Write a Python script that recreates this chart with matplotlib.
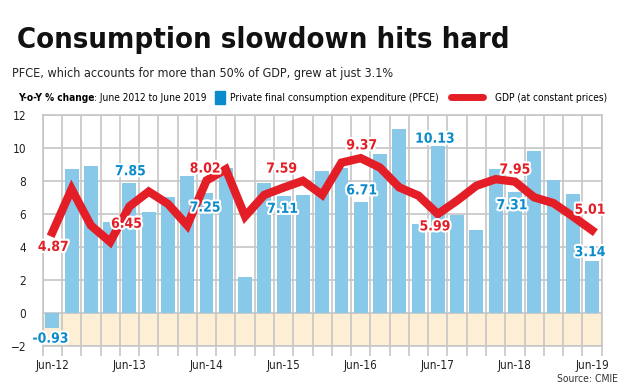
import matplotlib
matplotlib.use("Agg")
import matplotlib.pyplot as plt
import matplotlib.patheffects as pe
from matplotlib.patches import Rectangle
from matplotlib.lines import Line2D

# -------------------------------
quarters = ["Jun-12", "Sep-12", "Dec-12", "Mar-13", "Jun-13", "Sep-13", "Dec-13", "Mar-14",
            "Jun-14", "Sep-14", "Dec-14", "Mar-15", "Jun-15", "Sep-15", "Dec-15", "Mar-16",
            "Jun-16", "Sep-16", "Dec-16", "Mar-17", "Jun-17", "Sep-17", "Dec-17", "Mar-18",
            "Jun-18", "Sep-18", "Dec-18", "Mar-19", "Jun-19"]
pfce = [-0.93, 8.7, 8.9, 5.5, 7.85, 6.1, 7.0, 8.3, 7.25, 8.75, 2.17, 7.87, 7.11, 7.13, 8.58,
        8.8, 6.71, 9.6, 11.16, 5.4, 10.13, 5.94, 5.03, 8.73, 7.31, 9.78, 8.06, 7.23, 3.14]
gdp = [4.87, 7.5, 5.3, 4.3, 6.45, 7.35, 6.6, 5.3, 8.02, 8.7, 5.85, 7.15, 7.59, 8.0, 7.15,
       9.1, 9.37, 8.8, 7.6, 7.1, 5.99, 6.8, 7.7, 8.1, 7.95, 7.0, 6.65, 5.85, 5.01]
pfce_labels = {0: -0.93, 4: 7.85, 8: 7.25, 12: 7.11, 16: 6.71, 20: 10.13, 24: 7.31, 28: 3.14}
gdp_labels = {0: 4.87, 4: 6.45, 8: 8.02, 12: 7.59, 16: 9.37, 20: 5.99, 24: 7.95, 28: 5.01}
tick_idx = [0, 4, 8, 12, 16, 20, 24, 28]
yticks = [-2, 0, 2, 4, 6, 8, 10, 12]
# -------------------------------

BLUE = "#88c9e9"
BLUE_TXT = "#0b8bcc"
RED = "#e31e26"
GRID = "#c6c6c6"
plt.rcParams["font.family"] = ["DejaVu Sans"]
plt.rcParams["font.stretch"] = "condensed"

fig = plt.figure(figsize=(6.4, 3.91), dpi=100)
ax = fig.add_axes([0.0667, 0.115, 0.8734, 0.5916])

x = list(range(len(quarters)))
ax.axhspan(-2, 0, color="#fdefd5", zorder=0)
ax.bar(x, pfce, width=0.72, color=BLUE, zorder=2)
ax.plot(x, gdp, color=RED, lw=6, solid_joinstyle="miter", zorder=3)

ax.set_xlim(-0.5, len(quarters) - 0.5)
ax.set_ylim(-2, 12)

# grid: vertical lines at cell borders, horizontal at ticks
ax.set_xticks([i - 0.5 for i in range(len(quarters) + 1)])
ax.set_xticklabels([])
ax.tick_params(axis="x", which="major", length=7, color=GRID, width=1.2)
ax.set_xticks(tick_idx, minor=True)
ax.set_xticklabels([quarters[i] for i in tick_idx], minor=True)
ax.tick_params(axis="x", which="minor", length=0, pad=9, labelsize=8.5, labelcolor="#222222")
ax.set_yticks(yticks)
ax.tick_params(axis="y", length=0, pad=12, labelsize=8.5, labelcolor="#222222")
ax.grid(True, which="major", color=GRID, lw=1.2, zorder=1)
ax.set_axisbelow(True)
for s in ax.spines.values():
    s.set_color(GRID)
    s.set_linewidth(1.2)

stroke = [pe.withStroke(linewidth=3, foreground="white")]
pfce_pos = {0: (-0.1, -1.55), 4: (4.05, 8.58), 8: (7.93, 6.38), 12: (11.95, 6.3),
            16: (16.05, 7.42), 20: (19.85, 10.55), 24: (23.85, 6.52), 28: (27.9, 3.68)}
gdp_pos = {0: (0.05, 4.0), 4: (3.85, 5.4), 8: (7.93, 8.74), 12: (11.9, 8.74),
           16: (16.05, 10.15), 20: (19.85, 5.24), 24: (24.0, 8.68), 28: (27.9, 6.25)}
for i, v in pfce_labels.items():
    px, py = pfce_pos[i]
    ax.text(px, py, f"{v:.2f}", color=BLUE_TXT, fontsize=10, fontweight="bold",
            ha="center", va="center", path_effects=stroke, zorder=5, clip_on=False)
for i, v in gdp_labels.items():
    px, py = gdp_pos[i]
    ax.text(px, py, f"{v:.2f}", color=RED, fontsize=10, fontweight="bold",
            ha="center", va="center", path_effects=stroke, zorder=5, clip_on=False)

# titles
fig.text(0.026, 0.877, "Consumption slowdown hits hard", fontsize=21, fontweight="bold",
         color="#111111", va="baseline")
fig.text(0.019, 0.802, "PFCE, which accounts for more than 50% of GDP, grew at just 3.1%",
         fontsize=9, color="#222222", va="baseline")

# legend row, each piece placed right after the previous one
r = fig.canvas.get_renderer()
W = fig.bbox.width
ly = 0.742
fs = 7.3


def after(t, gap_px):
    return (t.get_window_extent(r).x1 + gap_px) / W


t = fig.text(0.028, ly, "Y-o-Y % change", fontsize=fs, fontweight="bold", va="baseline")
t = fig.text(after(t, 0), ly, ": June 2012 to June 2019", fontsize=fs, va="baseline")
sx = after(t, 8)
fig.patches.append(Rectangle((sx, 0.735), 0.016, 0.033, transform=fig.transFigure,
                             color=BLUE_TXT))
t = fig.text(sx + 0.016 + 5 / W, ly, "Private final consumption expenditure (PFCE)",
             fontsize=fs, va="baseline")
lx = after(t, 12)
fig.lines.append(Line2D([lx, lx + 0.05], [0.752, 0.752], transform=fig.transFigure,
                        color=RED, lw=5, solid_capstyle="round"))
fig.text(lx + 0.05 + 12 / W, ly, "GDP (at constant prices)", fontsize=fs, va="baseline")

fig.text(0.966, 0.022, "Source: CMIE", fontsize=7.5, color="#333333", ha="right", va="baseline")

fig.savefig("out.png", dpi=100)
